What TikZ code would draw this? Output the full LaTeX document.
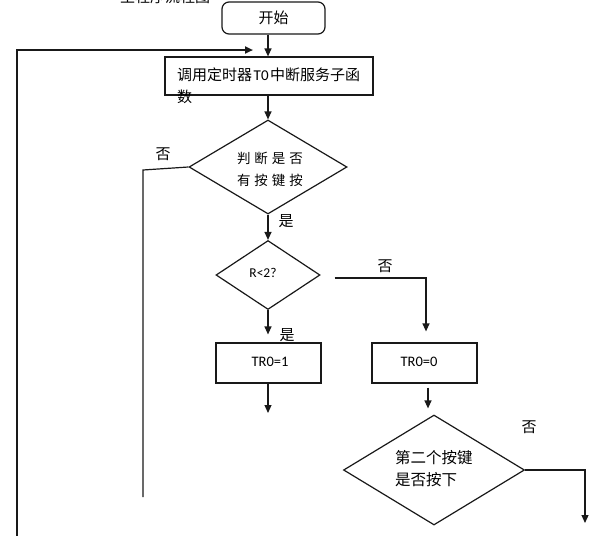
\documentclass[tikz,border=0pt]{standalone}
\usepackage{fontspec}
\setmainfont{Carlito}
\newfontfamily\cjk{Noto Sans CJK SC}
\usetikzlibrary{arrows.meta,shapes.geometric}
\tikzset{
  line/.style={draw=black!90, line width=1.2pt},
  arr/.style={line, -{Triangle[length=8pt,width=7pt]}},
  proc/.style={draw=black!90, line width=1.2pt, rectangle, inner sep=0pt},
  startbox/.style={proc, rounded corners=7pt},
  dia/.style={draw=black!90, line width=1.2pt, diamond, inner sep=0pt, aspect=1},
  cjktxt/.style={font=\cjk\fontsize{15}{22}\selectfont, inner sep=0pt},
  lat/.style={font=\fontsize{14.5}{16}\selectfont, inner sep=0pt},
}
\begin{document}
\begin{tikzpicture}[x=1pt,y=-1pt]
\useasboundingbox (0,0) rectangle (614,536);
\fill[white] (0,0) rectangle (614,536);
\clip (0,0) rectangle (614,536);

% title (cut off at the top edge, as in the reference)
\node[cjktxt] (title) at (165,-3) {主程序流程图};

% nodes
\node[startbox, minimum width=103pt, minimum height=32pt, font=\cjk\fontsize{15}{18}\selectfont] (start) at (273.5,18) {开始};
\node[proc, minimum width=208pt, minimum height=38pt] (proc) at (269,76) {};
\node[cjktxt, anchor=west, align=left] (proctxt) at (177,86) {调用定时器\hspace{1.5pt}{\normalfont\fontsize{15}{22}\selectfont T0}\hspace{1.5pt}中断服务子函\\数};

\node[dia, minimum width=158pt, minimum height=94pt] (d1) at (268,167) {};
\node[cjktxt, align=center, font=\cjk\fontsize{13.5}{22}\selectfont] (d1txt) at (270,169) {判\hspace{4pt}断\hspace{4pt}是\hspace{4pt}否\\有\hspace{4pt}按\hspace{4pt}键\hspace{4pt}按};

\node[dia, minimum width=104pt, minimum height=69pt] (d2) at (268,275) {};
\node[lat, font=\fontsize{13.5}{16}\selectfont] (d2txt) at (263,273) {R<2?};

\node[proc, minimum width=105pt, minimum height=40pt] (tr1) at (268.5,363) {};
\node[lat] (tr1txt) at (270,362) {TR0=1};
\node[proc, minimum width=105pt, minimum height=40pt] (tr0) at (424.5,363) {};
\node[lat] (tr0txt) at (419,362) {TR0=0};

\node[dia, minimum width=181pt, minimum height=110pt] (d3) at (434,470) {};
\node[cjktxt, anchor=west, align=left, font=\cjk\fontsize{15.5}{22}\selectfont] (d3txt) at (395,469) {第二个按键\\是否按下};

% labels
\node[cjktxt] (l1) at (163,154) {否};
\node[cjktxt] (l2) at (286,221) {是};
\node[cjktxt] (l3) at (385,266) {否};
\node[cjktxt] (l4) at (287,335) {是};
\node[cjktxt] (l5) at (529,427) {否};

% free ends / corners
\coordinate (loopstart) at (17,545);
\coordinate (loopcorner) at (17,50);
\coordinate (looptip) at (253,50);
\coordinate (d1no) at (143,170);
\coordinate (d1end) at (143,497);
\coordinate (d2out) at ([xshift=14pt,yshift=-3pt]d2.east);
\coordinate (d2turn) at (426,278);
\coordinate (tr0in) at ([yshift=11pt]tr0.north -| d2turn);
\coordinate (tr1in) at ([yshift=8pt]tr1.north -| d2.south);
\coordinate (tr1end) at (268,413);
\coordinate (tr0out) at ([xshift=3.5pt,yshift=-4pt]tr0.south);
\coordinate (d3in) at ([yshift=6pt]d3.north -| tr0out);
\coordinate (d3turn) at (585,470);
\coordinate (d3end) at (585,523);

% connectors
\draw[arr] (start.south -| d1.north) -- (proc.north -| d1.north);
\draw[arr] (proc.south -| d1.north) -- (d1.north);
\draw[arr] (d1.south) -- (d2.north);
\draw[line] (d1.west) -- (d1no) -- (d1end);
\draw[arr] (d2.south) -- (tr1in);
\draw[arr] (d2out) -- (d2turn) -- (tr0in);
\draw[arr] (tr1.south -| d2.south) -- (tr1end);
\draw[arr] (tr0out) -- (d3in);
\draw[arr] (d3.east) -- (d3turn) -- (d3end);
\draw[arr, line width=2pt] (loopstart) -- (loopcorner) -- (looptip);
\end{tikzpicture}
\end{document}
